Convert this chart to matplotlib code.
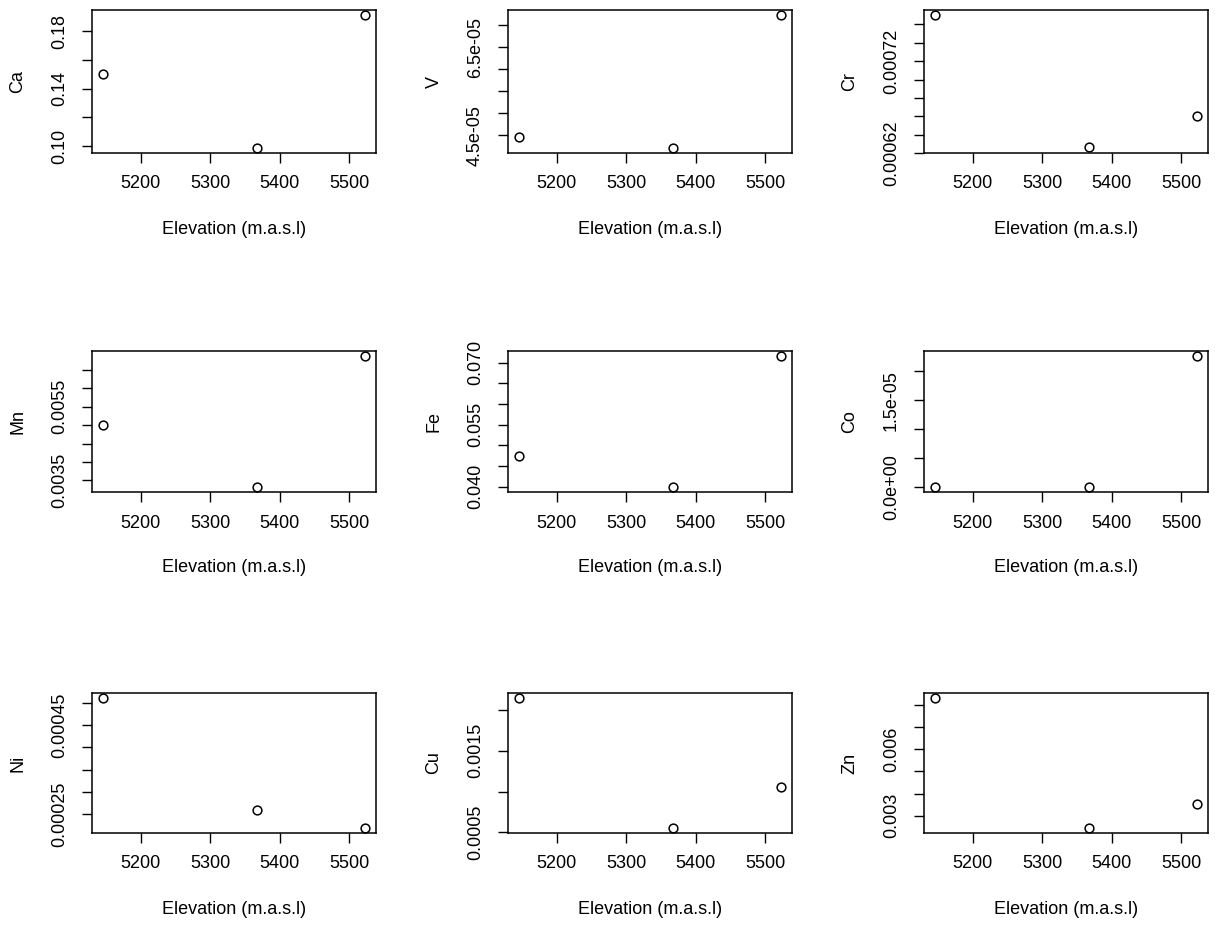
import matplotlib
matplotlib.use("Agg")
import matplotlib.pyplot as plt
from matplotlib.transforms import offset_copy

plt.rcParams['font.family'] = ['Liberation Sans', 'DejaVu Sans']

elevation = [5145, 5367, 5523]

elements = ["Ca", "V", "Cr", "Mn", "Fe", "Co", "Ni", "Cu", "Zn"]

ca = [0.150, 0.099, 0.191]
v = [4.46e-05, 4.22e-05, 7.23e-05]
cr = [0.000770, 0.000626, 0.000660]
mn = [0.00500, 0.00332, 0.00688]
fe = [0.0475, 0.0400, 0.0716]
co = [0.0, 0.0, 2.26e-05]
ni = [0.000511, 0.000260, 0.000219]
cu = [0.00214, 0.000557, 0.00105]
zn = [0.0083, 0.00246, 0.00352]

values = [ca, v, cr, mn, fe, co, ni, cu, zn]

x_ticks = [5200, 5300, 5400, 5500]
x_ticklabels = ["5200", "5300", "5400", "5500"]

ca_ticks = [0.10, 0.12, 0.14, 0.16, 0.18]
ca_labels = ["0.10", "", "0.14", "", "0.18"]
v_ticks = [4.5e-05, 5.0e-05, 5.5e-05, 6.0e-05, 6.5e-05, 7.0e-05]
v_labels = ["4.5e-05", "", "", "", "6.5e-05", ""]
cr_ticks = [0.00062, 0.00064, 0.00066, 0.00068, 0.00070, 0.00072, 0.00074, 0.00076]
cr_labels = ["0.00062", "", "", "", "", "0.00072", "", ""]
mn_ticks = [0.0035, 0.0040, 0.0045, 0.0050, 0.0055, 0.0060, 0.0065]
mn_labels = ["0.0035", "", "", "", "0.0055", "", ""]
fe_ticks = [0.040, 0.045, 0.050, 0.055, 0.060, 0.065, 0.070]
fe_labels = ["0.040", "", "", "0.055", "", "", "0.070"]
co_ticks = [0.0, 5e-06, 1e-05, 1.5e-05, 2e-05]
co_labels = ["0.0e+00", "", "", "1.5e-05", ""]
ni_ticks = [0.00025, 0.00030, 0.00035, 0.00040, 0.00045, 0.00050]
ni_labels = ["0.00025", "", "", "", "0.00045", ""]
cu_ticks = [0.0005, 0.0010, 0.0015, 0.0020]
cu_labels = ["0.0005", "", "0.0015", ""]
zn_ticks = [0.003, 0.004, 0.005, 0.006, 0.007, 0.008]
zn_labels = ["0.003", "", "", "0.006", "", ""]

y_ticks = [ca_ticks, v_ticks, cr_ticks, mn_ticks, fe_ticks, co_ticks, ni_ticks, cu_ticks, zn_ticks]
y_labels = [ca_labels, v_labels, cr_labels, mn_labels, fe_labels, co_labels, ni_labels, cu_labels, zn_labels]

W, H = 1215, 926
fig = plt.figure(figsize=(W / 100, H / 100), dpi=100)

col_left = [92, 508, 924]
col_width = 284
row_top = [10, 351, 693]
row_height = [143, 141, 140]

def rlim(vals):
    lo, hi = min(vals), max(vals)
    pad = 0.04 * (hi - lo)
    return lo - pad, hi + pad

FS = 13
for i, name in enumerate(elements):
    r, c = divmod(i, 3)
    left = col_left[c] / W
    bottom = 1 - (row_top[r] + row_height[r]) / H
    ax = fig.add_axes([left, bottom, col_width / W, row_height[r] / H])
    ax.plot(elevation, values[i], linestyle='none', marker='o', markersize=6.3,
            markerfacecolor='none', markeredgecolor='black', markeredgewidth=1.1)
    ax.set_xlim(*rlim(elevation))
    ax.set_ylim(*rlim(values[i]))
    ax.set_xticks(x_ticks)
    ax.set_xticklabels(x_ticklabels)
    ax.set_yticks(y_ticks[i])
    ax.set_yticklabels(y_labels[i], rotation=90, va='center')
    ax.tick_params(axis='both', direction='out', length=7.2, width=1.0,
                   labelsize=FS, color='black')
    ax.tick_params(axis='x', pad=9)
    ax.tick_params(axis='y', pad=10)
    for s in ax.spines.values():
        s.set_linewidth(1.1)
    ax.text(0.5, 0, "Elevation (m.a.s.l)", fontsize=FS, ha='center', va='center',
            transform=offset_copy(ax.transAxes, fig=fig, x=0, y=-76, units='dots'))
    ax.text(0, 0.5, name, fontsize=FS, ha='center', va='center', rotation=90,
            transform=offset_copy(ax.transAxes, fig=fig, x=-74, y=0, units='dots'))

fig.savefig("out.png", dpi=100)
